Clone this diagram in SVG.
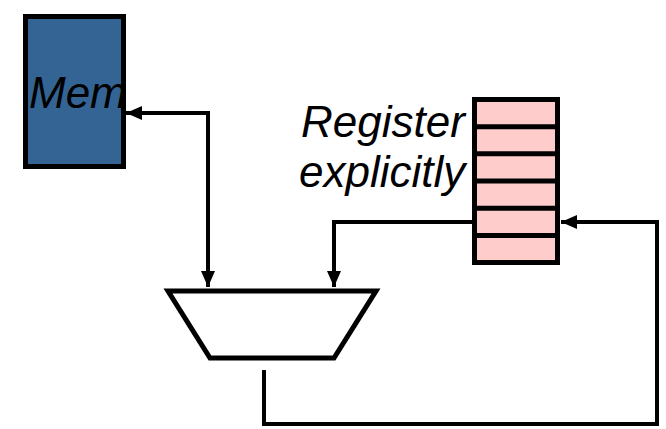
<svg xmlns="http://www.w3.org/2000/svg" width="666" height="429" viewBox="0 0 666 429">
  <style>
    .lbl { font-family: "Liberation Sans", Arial, sans-serif; font-style: italic; font-size: 44px; fill: #000; }
    .wire { fill: none; stroke: #000; stroke-width: 4; }
    .box { stroke: #000; stroke-width: 5; }
  </style>
  <defs>
    <marker id="arrow" viewBox="0 0 16 14" refX="16" refY="7" markerWidth="16" markerHeight="14" markerUnits="userSpaceOnUse" orient="auto">
      <path d="M0,0 L16,7 L0,14 Z" fill="#000"/>
    </marker>
  </defs>
  <rect width="666" height="429" fill="#fff"/>

  <g id="mem">
    <rect class="box" x="25.5" y="16.5" width="98" height="150" fill="#346494"/>
    <text class="lbl" x="29" y="108">Mem</text>
  </g>

  <g id="register-file">
    <rect class="box" x="474.5" y="99.5" width="83" height="163" fill="#ffcccc"/>
    <g stroke="#000" stroke-width="5">
      <line x1="474.5" y1="126.7" x2="557.5" y2="126.7"/>
      <line x1="474.5" y1="153.8" x2="557.5" y2="153.8"/>
      <line x1="474.5" y1="181" x2="557.5" y2="181"/>
      <line x1="474.5" y1="208.2" x2="557.5" y2="208.2"/>
      <line x1="474.5" y1="235.4" x2="557.5" y2="235.4"/>
    </g>
  </g>

  <g id="register-label">
    <text class="lbl" x="301" y="137">Register</text>
    <text class="lbl" x="299" y="187">explicitly</text>
  </g>

  <g id="alu">
    <polygon class="box" points="168,291 376,291 334,358 210,358" fill="#fff"/>
  </g>

  <g id="connectors">
    <!-- memory <-> ALU -->
    <polyline class="wire" points="208,287 208,113 126,113" marker-end="url(#arrow)"/>
    <line class="wire" x1="208" y1="150" x2="208" y2="287" marker-end="url(#arrow)"/>
    <!-- register file -> ALU -->
    <polyline class="wire" points="472,222 334,222 334,287" marker-end="url(#arrow)"/>
    <!-- ALU result -> register file -->
    <polyline class="wire" points="264,370 264,424 657,424 657,222 561,222" marker-end="url(#arrow)"/>
  </g>
</svg>
